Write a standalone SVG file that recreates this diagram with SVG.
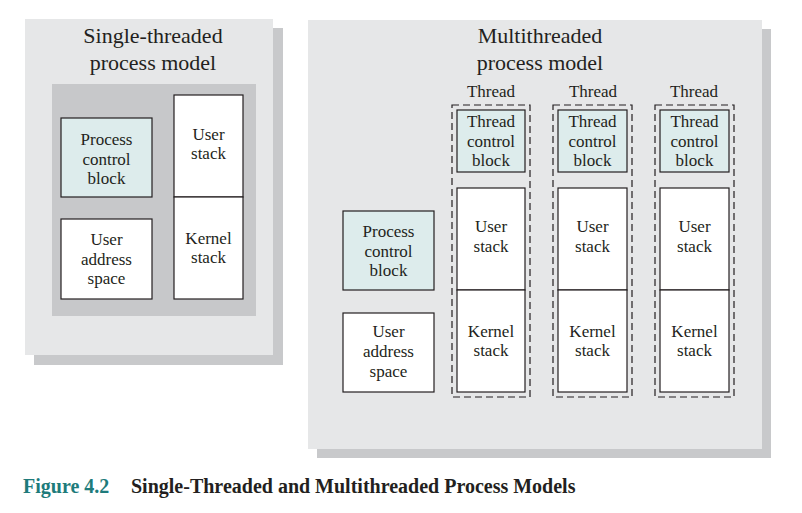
<svg xmlns="http://www.w3.org/2000/svg" width="802" height="513" viewBox="0 0 802 513">
<style>
text{font-family:"Liberation Serif","Times New Roman",serif;fill:#231f20;text-anchor:middle}
.t{font-size:22px}
.b{font-size:17px}
.panel{fill:#e6e7e8}
.shadow{fill:#c8c9cb}
.box{fill:#ffffff;stroke:#231f20;stroke-width:1.2}
.blue{fill:#ddecec;stroke:#231f20;stroke-width:1.2}
.dash{fill:none;stroke:#231f20;stroke-width:1.2;stroke-dasharray:7,4}
.cap{font-size:20px;font-weight:bold;text-anchor:start}
</style>
<rect width="802" height="513" fill="#ffffff"/>
<g id="single-panel">
<rect class="shadow" x="34" y="28" width="249" height="337"/>
<rect class="panel" x="25" y="19" width="248" height="336"/>
<text class="t" x="153" y="43">Single-threaded</text>
<text class="t" x="153" y="70">process model</text>
<rect x="52" y="84" width="204" height="232" fill="#c7c8ca"/>
</g>
<g id="s-pcb">
<rect class="blue" x="61" y="118" width="91" height="79"/>
<text class="b" x="106.5" y="145">Process</text>
<text class="b" x="106.5" y="165">control</text>
<text class="b" x="106.5" y="184">block</text>
</g>
<g id="s-uas">
<rect class="box" x="61" y="219" width="91" height="80"/>
<text class="b" x="106.5" y="245">User</text>
<text class="b" x="106.5" y="265">address</text>
<text class="b" x="106.5" y="284">space</text>
</g>
<g id="s-ustack">
<rect class="box" x="174" y="95" width="69" height="102"/>
<text class="b" x="208.5" y="140">User</text>
<text class="b" x="208.5" y="159">stack</text>
</g>
<g id="s-kstack">
<rect class="box" x="174" y="197" width="69" height="102"/>
<text class="b" x="208.5" y="244">Kernel</text>
<text class="b" x="208.5" y="263">stack</text>
</g>
<g id="multi-panel">
<rect class="shadow" x="317" y="29" width="454" height="429"/>
<rect class="panel" x="308" y="20" width="454" height="429"/>
<text class="t" x="540" y="43">Multithreaded</text>
<text class="t" x="540" y="70">process model</text>
</g>
<g id="m-pcb">
<rect class="blue" x="343" y="211" width="91" height="79"/>
<text class="b" x="388.5" y="237">Process</text>
<text class="b" x="388.5" y="257">control</text>
<text class="b" x="388.5" y="276">block</text>
</g>
<g id="m-uas">
<rect class="box" x="343" y="313" width="91" height="79"/>
<text class="b" x="388.5" y="337">User</text>
<text class="b" x="388.5" y="357">address</text>
<text class="b" x="388.5" y="377">space</text>
</g>
<g id="thread1">
<text class="b" x="491" y="97">Thread</text>
<rect class="dash" x="452" y="105" width="78" height="292"/>
<rect class="blue" x="457" y="110" width="68" height="62"/>
<text class="b" x="491" y="127">Thread</text>
<text class="b" x="491" y="147">control</text>
<text class="b" x="491" y="166">block</text>
<rect class="box" x="457" y="188" width="68" height="102"/>
<text class="b" x="491" y="232">User</text>
<text class="b" x="491" y="252">stack</text>
<rect class="box" x="457" y="290" width="68" height="102"/>
<text class="b" x="491" y="337">Kernel</text>
<text class="b" x="491" y="356">stack</text>
</g>
<g id="thread2">
<text class="b" x="593" y="97">Thread</text>
<rect class="dash" x="553" y="105" width="79" height="292"/>
<rect class="blue" x="558" y="110" width="69" height="62"/>
<text class="b" x="592.5" y="127">Thread</text>
<text class="b" x="592.5" y="147">control</text>
<text class="b" x="592.5" y="166">block</text>
<rect class="box" x="558" y="188" width="69" height="102"/>
<text class="b" x="592.5" y="232">User</text>
<text class="b" x="592.5" y="252">stack</text>
<rect class="box" x="558" y="290" width="69" height="102"/>
<text class="b" x="592.5" y="337">Kernel</text>
<text class="b" x="592.5" y="356">stack</text>
</g>
<g id="thread3">
<text class="b" x="694" y="97">Thread</text>
<rect class="dash" x="655" y="105" width="79" height="292"/>
<rect class="blue" x="660" y="110" width="69" height="62"/>
<text class="b" x="694.5" y="127">Thread</text>
<text class="b" x="694.5" y="147">control</text>
<text class="b" x="694.5" y="166">block</text>
<rect class="box" x="660" y="188" width="69" height="102"/>
<text class="b" x="694.5" y="232">User</text>
<text class="b" x="694.5" y="252">stack</text>
<rect class="box" x="660" y="290" width="69" height="102"/>
<text class="b" x="694.5" y="337">Kernel</text>
<text class="b" x="694.5" y="356">stack</text>
</g>
<g id="connectors"></g>
<g id="caption">
<text class="cap" x="23" y="493" style="fill:#1e7b7b">Figure 4.2</text>
<text class="cap" x="131" y="493">Single-Threaded and Multithreaded Process Models</text>
</g>
</svg>
